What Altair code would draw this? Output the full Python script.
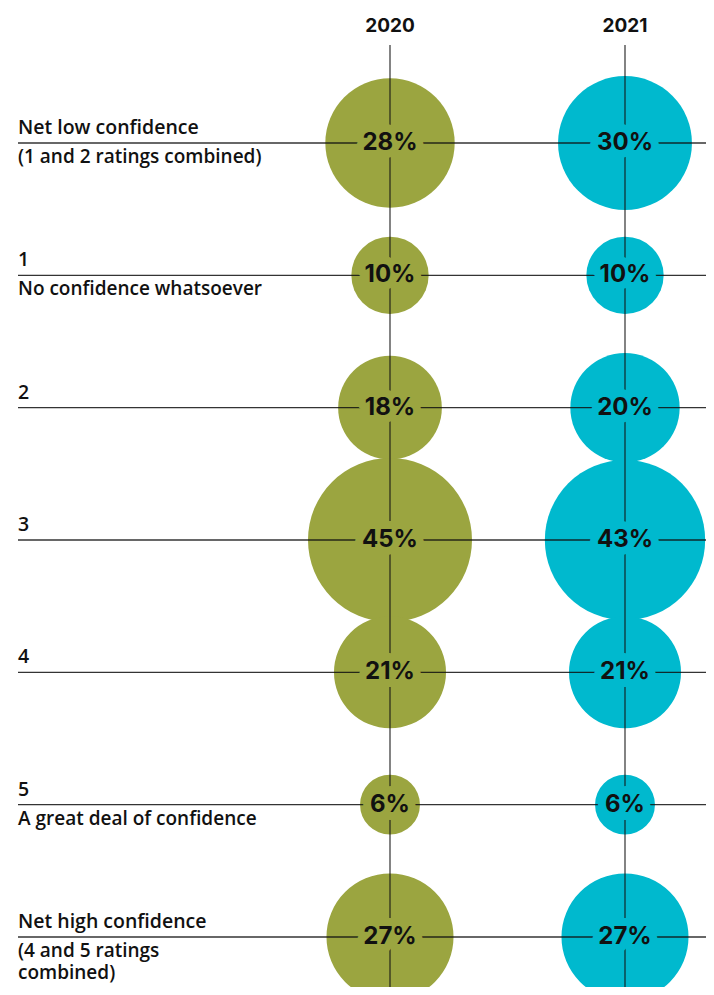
import altair as alt
import pandas as pd

# ---- data ----
years = ["2020", "2021"]
row_keys = ["Net low confidence", "1", "2", "3", "4", "5", "Net high confidence"]
sub_labels = [
    "(1 and 2 ratings combined)",
    "No confidence whatsoever",
    "",
    "",
    "",
    "A great deal of confidence",
    "(4 and 5 ratings\ncombined)",
]
values_2020 = [28, 10, 18, 45, 21, 6, 27]
values_2021 = [30, 10, 20, 43, 21, 6, 27]
colors = ["#9BA540", "#00B9CE"]

bubbles = pd.DataFrame(
    [{"row": r, "year": "2020", "value": v, "label": f"{v}%"} for r, v in zip(row_keys, values_2020)]
    + [{"row": r, "year": "2021", "value": v, "label": f"{v}%"} for r, v in zip(row_keys, values_2021)]
)
rows_df = pd.DataFrame({"row": row_keys, "sub": sub_labels})
years_df = pd.DataFrame({"year": years})

W, H = 698, 979
LABEL_FONT = "Open Sans"
NUM_FONT = "Inter"

x_scale = alt.Scale(type="point", domain=years, range=[382, 617], padding=0)
y_scale = alt.Scale(type="point", domain=row_keys, range=[135, 929], padding=0)
c_scale = alt.Scale(domain=years, range=colors)
s_scale = alt.Scale(type="linear", domain=[0, 45], range=[0, 26896], zero=True)

X = alt.X("year:N", scale=x_scale, axis=None)
Y = alt.Y("row:N", scale=y_scale, axis=None)

bubble_layer = alt.Chart(bubbles).mark_circle(opacity=1).encode(
    x=X, y=Y,
    size=alt.Size("value:Q", scale=s_scale, legend=None),
    color=alt.Color("year:N", scale=c_scale, legend=None),
)

hrules = alt.Chart(rows_df).mark_rule(color="#111", strokeWidth=1.3, opacity=0.85).encode(
    y=Y, x=alt.value(10), x2=alt.value(W)
)

vrules = alt.Chart(years_df).mark_rule(color="#111", strokeWidth=1.3, opacity=0.8).encode(
    x=X, y=alt.value(37), y2=alt.value(H)
)

halo = alt.Chart(bubbles).mark_text(
    font=NUM_FONT, fontSize=24, fontWeight="bold", strokeWidth=16, strokeJoin="round"
).encode(
    x=X, y=Y, text="label:N",
    stroke=alt.Stroke("year:N", scale=c_scale, legend=None),
    fill=alt.Fill("year:N", scale=c_scale, legend=None),
)

pct = alt.Chart(bubbles).mark_text(
    font=NUM_FONT, fontSize=24, fontWeight="bold", color="#111"
).encode(x=X, y=Y, text="label:N")

top_labels = alt.Chart(rows_df).mark_text(
    font=LABEL_FONT, fontSize=19.5, fontWeight=600, align="left", baseline="middle", dy=-15, color="#111"
).encode(y=Y, x=alt.value(10), text="row:N")

bottom_labels = alt.Chart(rows_df).mark_text(
    font=LABEL_FONT, fontSize=19, fontWeight=600, align="left", baseline="middle", dy=14, lineBreak="\n",
    lineHeight=22, color="#111"
).encode(y=Y, x=alt.value(10), text="sub:N")

year_titles = alt.Chart(years_df).mark_text(
    font=NUM_FONT, fontSize=19, fontWeight="bold", color="#111", baseline="middle"
).encode(x=X, y=alt.value(18), text="year:N")

chart = alt.layer(
    bubble_layer, hrules, vrules, halo, pct, top_labels, bottom_labels, year_titles
).properties(
    width=W, height=H, padding=0, autosize="none"
).configure_view(stroke=None)

chart.save("out.html", embed_options={"renderer": "svg", "actions": False})
